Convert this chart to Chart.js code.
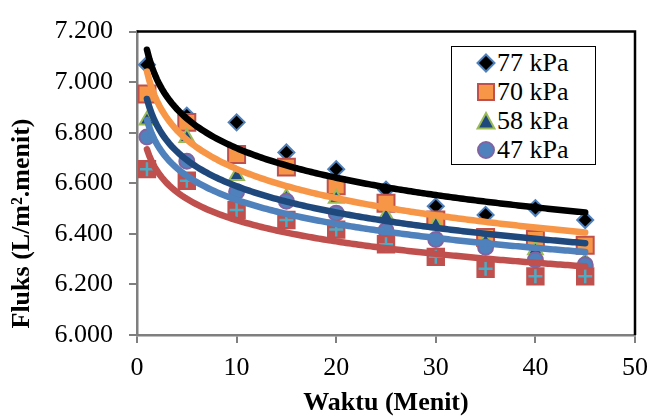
<!DOCTYPE html>
<html>
<head>
<meta charset="utf-8">
<script src="https://cdn.jsdelivr.net/npm/chart.js@4/dist/chart.umd.min.js"></script>
<style>
  html, body { margin: 0; padding: 0; background: #fff; }
  #wrap { position: relative; width: 658px; height: 416px; }
  #legend {
    position: absolute; left: 451px; top: 46px; width: 143px; height: 116px;
    border: 1.5px solid #000; background: #fff;
    font-family: "Liberation Serif", "Times New Roman", serif; font-size: 26px; color: #000;
    padding-top: 1px;
  }
  #legend div { height: 29px; line-height: 29px; white-space: nowrap; position: relative; }
  #legend svg { position: absolute; left: 24px; top: 4.5px; }
  #legend span { position: absolute; left: 45px; top: 0; }
</style>
</head>
<body>
<div id="wrap">
  <canvas id="myChart" width="658" height="416"></canvas>
  <div id="legend">
    <div><svg width="20" height="20"><polygon points="10,1.5 18.5,10 10,18.5 1.5,10" fill="#000" stroke="#4f81bd" stroke-width="2"/></svg><span>77 kPa</span></div>
    <div><svg width="20" height="20"><rect x="2" y="2" width="16" height="16" fill="#f79646" stroke="#c0504d" stroke-width="2"/></svg><span>70 kPa</span></div>
    <div><svg width="20" height="20"><polygon points="10,2 18.5,17.5 1.5,17.5" fill="#1f497d" stroke="#9bbb59" stroke-width="2"/></svg><span>58 kPa</span></div>
    <div><svg width="20" height="20"><circle cx="10" cy="10" r="8" fill="#4f81bd" stroke="#8064a2" stroke-width="2"/></svg><span>47 kPa</span></div>
  </div>
</div>
<script>
// waktu (menit)
const waktu = [1, 5, 10, 15, 20, 25, 30, 35, 40, 45];
// fluks per tekanan
const fluks77 = [7.069, 6.868, 6.841, 6.722, 6.656, 6.575, 6.509, 6.475, 6.502, 6.455];
const fluks70 = [6.953, 6.841, 6.714, 6.664, 6.590, 6.521, 6.455, 6.386, 6.378, 6.355];
const fluks58 = [6.849, 6.780, 6.630, 6.544, 6.540, 6.471, 6.436, 6.370, 6.336, 6.290];
const fluks47 = [6.783, 6.687, 6.567, 6.529, 6.482, 6.413, 6.378, 6.347, 6.297, 6.278];
const fluksLain = [6.656, 6.610, 6.494, 6.455, 6.417, 6.359, 6.309, 6.262, 6.232, 6.232];

const yTicks = [6.0, 6.2, 6.4, 6.6, 6.8, 7.0, 7.2];

const font = '"Liberation Serif", "Times New Roman", serif';

function pts(ys) {
  return waktu.map((x, i) => ({ x: x, y: ys[i] }));
}

// logarithmic trendline (like Excel): y = a + b ln(x)
function trend(ys) {
  const n = waktu.length;
  const lx = waktu.map(x => Math.log(x));
  const mx = lx.reduce((s, v) => s + v, 0) / n;
  const my = ys.reduce((s, v) => s + v, 0) / n;
  let sxy = 0, sxx = 0;
  for (let i = 0; i < n; i++) {
    sxy += (lx[i] - mx) * (ys[i] - my);
    sxx += (lx[i] - mx) * (lx[i] - mx);
  }
  const b = sxy / sxx;
  const a = my - b * mx;
  const out = [];
  const x0 = waktu[0], x1 = waktu[n - 1];
  for (let x = x0; x <= x1 + 1e-9; x += 0.25) {
    out.push({ x: x, y: a + b * Math.log(x) });
  }
  return out;
}

function trendSet(ys, color, order) {
  return {
    data: trend(ys),
    showLine: true,
    borderColor: color,
    borderWidth: 6.5,
    borderCapStyle: "round",
    pointRadius: 0,
    fill: false,
    order: order
  };
}

const frame = {
  id: "frame",
  afterDraw(chart) {
    const a = chart.chartArea;
    const ctx = chart.ctx;
    ctx.save();
    ctx.strokeStyle = "#000";
    ctx.lineWidth = 2.5;
    ctx.beginPath();
    ctx.moveTo(a.left, a.top);
    ctx.lineTo(a.right, a.top);
    ctx.lineTo(a.right, a.bottom);
    ctx.stroke();
    ctx.restore();
  }
};

const ctx = document.getElementById("myChart").getContext("2d");
new Chart(ctx, {
  type: "scatter",
  data: {
    datasets: [
      trendSet(fluksLain, "#c0504d", -5),
      trendSet(fluks47, "#4f81bd", -4),
      trendSet(fluks58, "#1f497d", -3),
      trendSet(fluks70, "#f79646", -2),
      trendSet(fluks77, "#000000", -1),
      {
        data: pts(fluksLain),
        pointStyle: "cross",
        pointRadius: 7,
        borderColor: "#4bacc6",
        borderWidth: 2.5,
        order: 1
      },
      {
        data: pts(fluksLain),
        pointStyle: "rect",
        pointRadius: 13,
        backgroundColor: "#c0504d",
        borderWidth: 0,
        order: 2
      },
      {
        label: "47 kPa",
        data: pts(fluks47),
        pointStyle: "circle",
        pointRadius: 7.5,
        backgroundColor: "#4f81bd",
        borderColor: "#8064a2",
        borderWidth: 2,
        order: 3
      },
      {
        label: "58 kPa",
        data: pts(fluks58),
        pointStyle: "triangle",
        pointRadius: 8.5,
        backgroundColor: "#1f497d",
        borderColor: "#9bbb59",
        borderWidth: 2,
        order: 4
      },
      {
        label: "70 kPa",
        data: pts(fluks70),
        pointStyle: "rect",
        pointRadius: 12,
        backgroundColor: "#f79646",
        borderColor: "#c0504d",
        borderWidth: 2,
        order: 5
      },
      {
        label: "77 kPa",
        data: pts(fluks77),
        pointStyle: "rectRot",
        pointRadius: 8,
        backgroundColor: "#000000",
        borderColor: "#4f81bd",
        borderWidth: 2,
        order: 6
      }
    ]
  },
  options: {
    responsive: false,
    animation: false,
    layout: { padding: { left: 0, top: 24, right: 15, bottom: 0 } },
    plugins: {
      legend: { display: false },
      tooltip: { enabled: false }
    },
    scales: {
      x: {
        type: "linear",
        min: 0,
        max: 50,
        ticks: {
          stepSize: 10,
          padding: 10,
          color: "#000",
          font: { family: font, size: 26 }
        },
        grid: { drawOnChartArea: false, tickLength: 8, color: "#7f7f7f", lineWidth: 2 },
        border: { color: "#7f7f7f", width: 2.5 },
        title: {
          display: true,
          text: "Waktu (Menit)",
          color: "#000",
          padding: 0,
          font: { family: font, size: 26, weight: "bold", lineHeight: 1 }
        },
        afterFit(scale) { scale.height = 81; }
      },
      y: {
        type: "linear",
        min: yTicks[0],
        max: yTicks[yTicks.length - 1],
        afterBuildTicks(scale) { scale.ticks = yTicks.map(v => ({ value: v })); },
        ticks: {
          padding: 16,
          color: "#000",
          font: { family: font, size: 26 },
          callback: v => Number(v).toFixed(3)
        },
        grid: { drawOnChartArea: false, tickLength: 8, color: "#7f7f7f", lineWidth: 2 },
        border: { color: "#7f7f7f", width: 2.5 },
        title: {
          display: true,
          text: " Fluks (L/m².menit)",
          align: "start",
          color: "#000",
          padding: { top: 9, bottom: 0 },
          font: { family: font, size: 26, weight: "bold", lineHeight: 1 }
        },
        afterFit(scale) { scale.width = 137; }
      }
    }
  },
  plugins: [frame]
});
</script>
</body>
</html>
